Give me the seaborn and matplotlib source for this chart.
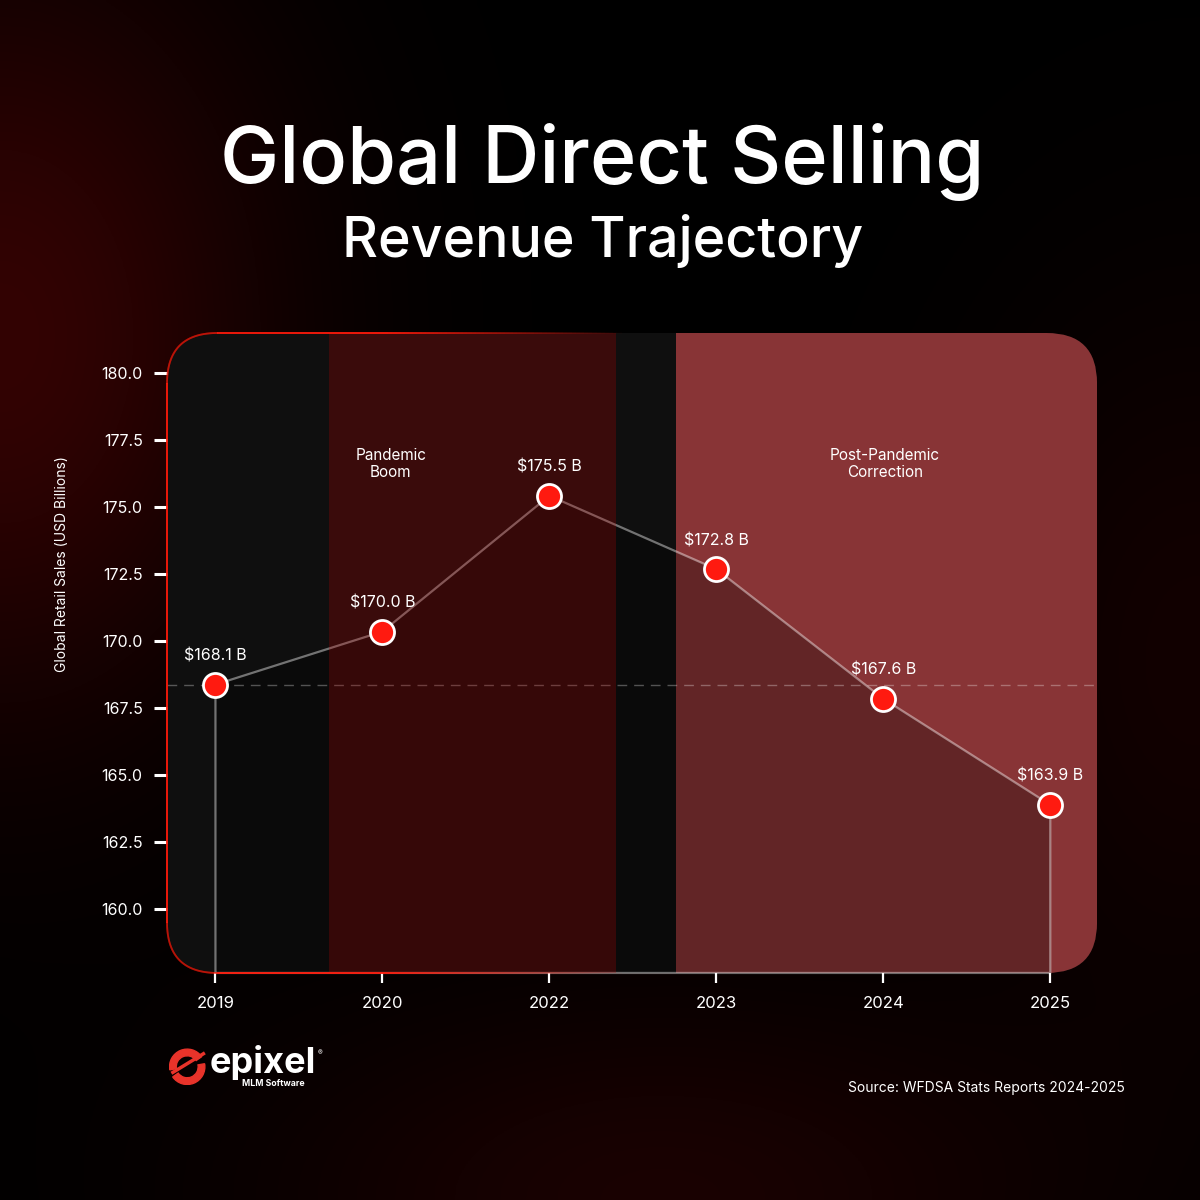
import matplotlib
matplotlib.use("Agg")
import matplotlib.pyplot as plt
from matplotlib.patches import FancyBboxPatch, Wedge
from matplotlib.collections import LineCollection
import seaborn as sns
import numpy as np

years = ["2019", "2020", "2022", "2023", "2024", "2025"]
sales = [168.37, 170.35, 175.42, 172.68, 167.84, 163.88]
sales_labels = ["$168.1 B", "$170.0 B", "$175.5 B", "$172.8 B", "$167.6 B", "$163.9 B"]
y_ticks = [160.0, 162.5, 165.0, 167.5, 170.0, 172.5, 175.0, 177.5, 180.0]
phase_names = ["Pandemic\nBoom", "Post-Pandemic\nCorrection"]
phase_spans = [(0.68, 2.40), (2.76, 5.28)]
phase_label_x = [1.05, 4.01]

sns.set_theme(style="dark")
plt.rcParams["font.family"] = ["Inter", "DejaVu Sans"]

fig = plt.figure(figsize=(12, 12), dpi=100)
fig.patch.set_facecolor("black")

# background with soft red glows
bg = fig.add_axes([0, 0, 1, 1], zorder=-10)
gx, gy = np.meshgrid(np.linspace(0, 1, 400), np.linspace(1, 0, 400))
glow = (0.20 * np.exp(-((gx - 0.0) ** 2 / 0.05 + (gy - 0.72) ** 2 / 0.10))
        + 0.10 * np.exp(-((gx - 0.55) ** 2 / 0.12 + (gy - 0.0) ** 2 / 0.03))
        + 0.07 * np.exp(-((gx - 1.0) ** 2 / 0.04 + (gy - 0.45) ** 2 / 0.10)))
img = np.zeros((400, 400, 3))
img[..., 0] = glow
img[..., 1] = glow * 0.05
img[..., 2] = glow * 0.05
bg.imshow(img, extent=[0, 1, 0, 1], aspect="auto")
bg.set_axis_off()

left, bottom, width, height = 0.1392, 0.1892, 0.775, 0.5333
ax = fig.add_axes([left, bottom, width, height])
ax.patch.set_visible(False)

panel = FancyBboxPatch((left, bottom), width, height,
                       boxstyle="round,pad=0,rounding_size=0.042",
                       transform=fig.transFigure, facecolor="#0f0f0f", edgecolor="none")
ax.add_artist(panel)
panel.set_zorder(0)
panel.set_clip_on(False)

x = np.arange(len(years))
ymin, ymax = 157.6, 181.5

post = ax.axvspan(*phase_spans[1], color="#883436", zorder=1, lw=0)
post.set_clip_path(panel)

fill = ax.fill_between(x, sales, ymin, color="black", alpha=0.28, lw=0, zorder=2)
fill.set_clip_path(panel)

# outline of the area
ox = np.concatenate([[x[0]], x, [x[-1]], [x[0]]])
oy = np.concatenate([[ymin], sales, [ymin], [ymin]])
ax.plot(ox, oy, color="white", alpha=0.42, lw=1.6, zorder=3, clip_on=False)

ax.axhline(sales[0], color="white", alpha=0.3, lw=1, ls=(0, (7, 5)), zorder=3)

# the boom band is a translucent red wash over the line
boom = ax.axvspan(*phase_spans[0], color="#bb0303", alpha=0.25, zorder=3.5, lw=0)
boom.set_clip_path(panel)

sns.scatterplot(x=x, y=sales, ax=ax, s=300, color="#ff1a10", edgecolor="white",
                linewidth=2, zorder=5, legend=False)

for xi, yi, lab in zip(x, sales, sales_labels):
    ax.annotate(lab, (xi, yi), xytext=(0, 15), textcoords="offset points",
                ha="center", va="bottom", color="white", fontsize=11.5, zorder=6)

for name, lx in zip(phase_names, phase_label_x):
    ax.text(lx, 176.6, name, ha="center", va="center", color="white",
            fontsize=11, linespacing=1.15, zorder=6)

# red panel border fading out towards the right
pts = []
for bez, code in panel.get_path().iter_bezier():
    pts.append(bez(np.linspace(0, 1, 200)))
pts = np.vstack(pts)
segs = np.stack([pts[:-1], pts[1:]], axis=1)
mid_x = segs[:, :, 0].mean(axis=1)
fade = np.clip(1 - (mid_x - 0.32) / 0.20, 0, 1)
cols = np.zeros((len(segs), 4))
cols[:, 0], cols[:, 1], cols[:, 2] = 1.0, 0.1, 0.04
cols[:, 3] = fade
border = LineCollection(segs, colors=cols, linewidths=1.3,
                        transform=fig.transFigure, zorder=6)
fig.add_artist(border)

ax.set_xlim(-0.29, 5.28)
ax.set_ylim(ymin, ymax)
ax.set_xticks(x)
ax.set_xticklabels(years)
ax.set_yticks(y_ticks)
ax.set_yticklabels([f"{v:.1f}" for v in y_ticks])
ax.tick_params(axis="y", colors="white", length=9.5, width=2.2, labelsize=11.5, pad=8,
               left=True, direction="out")
ax.tick_params(axis="x", colors="white", length=7.5, width=1.6, labelsize=12, pad=9,
               bottom=True, direction="out")
for s in ax.spines.values():
    s.set_visible(False)
ax.grid(False)
ax.set_xlabel("")
ax.set_ylabel("")

fig.text(0.052, 0.53, "Global Retail Sales (USD Billions)", rotation=90,
         ha="center", va="center", color="white", fontsize=10)

fig.text(0.502, 0.8475, "Global Direct Selling", ha="center", va="baseline",
         color="white", fontsize=57, fontweight="medium")
fig.text(0.502, 0.786, "Revenue Trajectory", ha="center", va="baseline",
         color="white", fontsize=40, fontweight="medium")

fig.text(0.9375, 0.093, "Source: WFDSA Stats Reports 2024-2025", ha="right",
         va="center", color="white", fontsize=10)

# logo
logo = fig.add_axes([0.1405, 0.0955, 0.031, 0.031])
logo.set_xlim(-1, 1)
logo.set_ylim(-1, 1)
logo.set_aspect("equal")
logo.add_patch(Wedge((0, 0), 0.95, 35, 190, width=0.36, color="#e8332a"))
logo.add_patch(Wedge((0, 0), 0.95, 215, 370, width=0.36, color="#e8332a"))
logo.plot([-0.85, 0.95], [-0.35, 0.75], color="#e8332a", lw=2.5, solid_capstyle="butt")
logo.set_axis_off()
fig.text(0.175, 0.106, "epixel", ha="left", va="baseline", color="white",
         fontsize=26, fontweight="bold")
fig.text(0.265, 0.122, "®", ha="left", va="center", color="white", fontsize=5)
fig.text(0.2017, 0.0975, "MLM Software", ha="left", va="center", color="white",
         fontsize=6.3, fontweight="bold")

fig.savefig("out.png", dpi=100, facecolor=fig.get_facecolor())
